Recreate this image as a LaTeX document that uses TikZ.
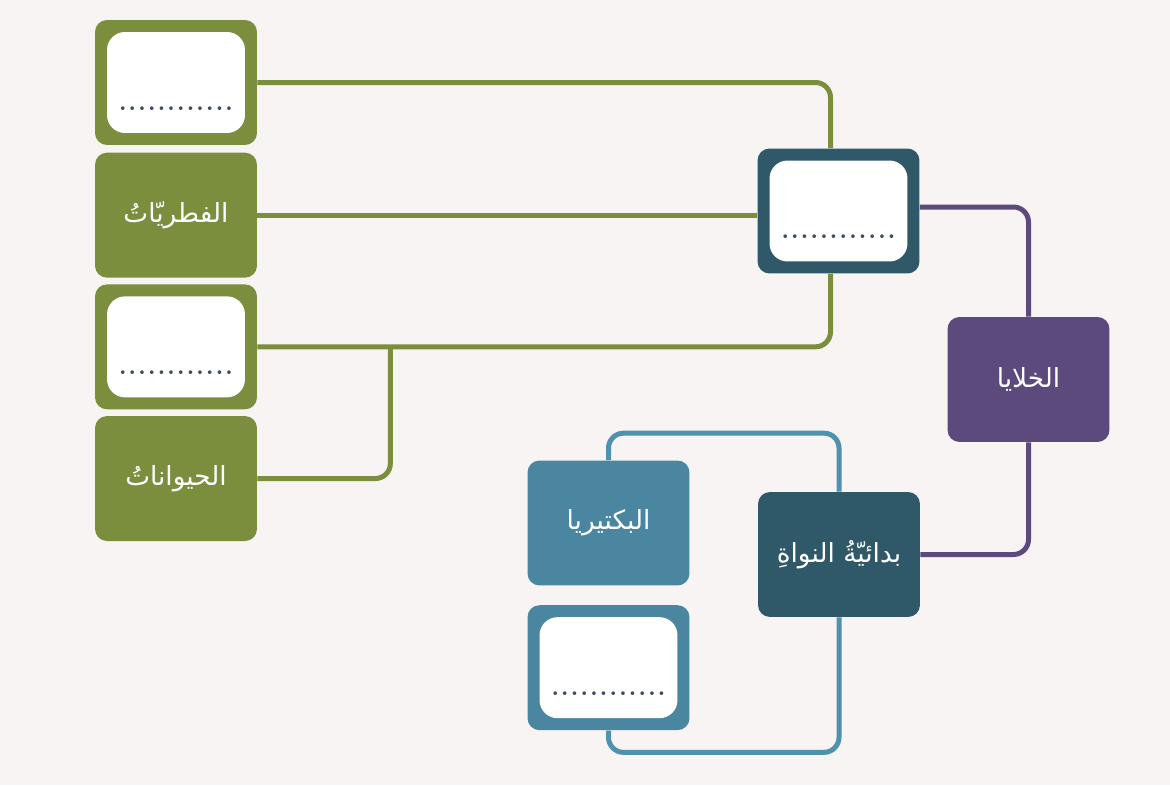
\documentclass[tikz,border=0pt]{standalone}
\usepackage{fontspec}
\usetikzlibrary{positioning,calc,backgrounds}
\newfontfamily\arabicfont[Script=Arabic]{DejaVu Sans}
\TeXXeTstate=1

\definecolor{leafgreen}{HTML}{7A8E3E}
\definecolor{deepteal}{HTML}{2F5868}
\definecolor{cellpurple}{HTML}{5C4A7C}
\definecolor{seateal}{HTML}{4B86A0}
\definecolor{linkteal}{HTML}{4E92AD}
\definecolor{paper}{HTML}{F8F4F3}
\definecolor{dotgray}{HTML}{3E4A64}

\newcommand{\ar}[1]{{\arabicfont\beginR #1\endR}}
\newcommand{\answerline}{.\kern1pt.\kern1pt.\kern1pt.\kern1pt.\kern1pt.\kern1pt.\kern1pt.\kern1pt.\kern1pt.\kern1pt.\kern1pt.}

\begin{document}
\begin{tikzpicture}[x=0.02cm, y=-0.02cm, font=\fontsize{15}{18}\selectfont,
    tile/.style={rounded corners=0.24cm, minimum width=3.24cm, minimum height=2.5cm, inner sep=0pt, fill=#1, text=white},
    blanktile/.style={tile=#1, path picture={\fill[white, rounded corners=0.36cm] ([shift={(0.24cm,0.24cm)}]path picture bounding box.south west) rectangle ([shift={(-0.24cm,-0.24cm)}]path picture bounding box.north east);}},
    dotrow/.style={font=\Large\bfseries, text=dotgray, inner sep=0pt},
    wire/.style={draw=#1, line width=0.1cm, rounded corners=0.3cm}]
        % left column
        \node[blanktile=leafgreen] (b1) at (176,82.5) {};
        \node[tile=leafgreen, below=0.14cm of b1] (fungi) {\ar{الفطريّاتُ}};
        \node[blanktile=leafgreen, below=0.12cm of fungi] (b3) {};
        \node[tile=leafgreen, below=0.12cm of b3] (animals) {\ar{الحيواناتُ}};
        
        % middle and right
        \node[blanktile=deepteal] (b5) at (838.5,211) {};
        \node[tile=cellpurple] (cells) at (1028.5,379.5) {\ar{الخلايا}};
        \node[tile=deepteal] (prok) at (839,554.5) {\ar{بدائيّةُ النواةِ}};
        \node[tile=seateal] (bact) at (608.5,523) {\ar{البكتيريا}};
        \node[blanktile=seateal, below=0.38cm of bact] (b9) {};
        
        % blank answer lines
        \node[dotrow] (d1) at ([yshift=0.74cm]b1.south) {\answerline};
        \node[dotrow] (d3) at ([yshift=0.74cm]b3.south) {\answerline};
        \node[dotrow] (d5) at ([yshift=0.74cm]b5.south) {\answerline};
        \node[dotrow] (d9) at ([yshift=0.74cm]b9.south) {\answerline};
        
        \coordinate (jn) at ($(b3.east)+(133,0)$);
        
        \begin{scope}[on background layer]
        \fill[paper] (0,0) rectangle (1170,785);
        \draw[wire=leafgreen] (b1.east) -| ([xshift=-0.16cm]b5.north);
        \draw[wire=leafgreen] (fungi.east) -- (fungi.east -| b5.west);
        \draw[wire=leafgreen] ([xshift=-0.16cm]b5.south) |- (b3.east);
        \draw[wire=leafgreen] (jn) |- (animals.east);
        \draw[wire=cellpurple] ([yshift=0.08cm]b5.east) -| (cells.north);
        \draw[wire=cellpurple] (cells.south) |- (prok.east);
        \draw[wire=linkteal] (bact.north) -- ++(0,-27) -| (prok.north);
        \draw[wire=linkteal] (prok.south) -- ++(0,135) -| (b9.south);
        \end{scope}
\end{tikzpicture}
\end{document}
